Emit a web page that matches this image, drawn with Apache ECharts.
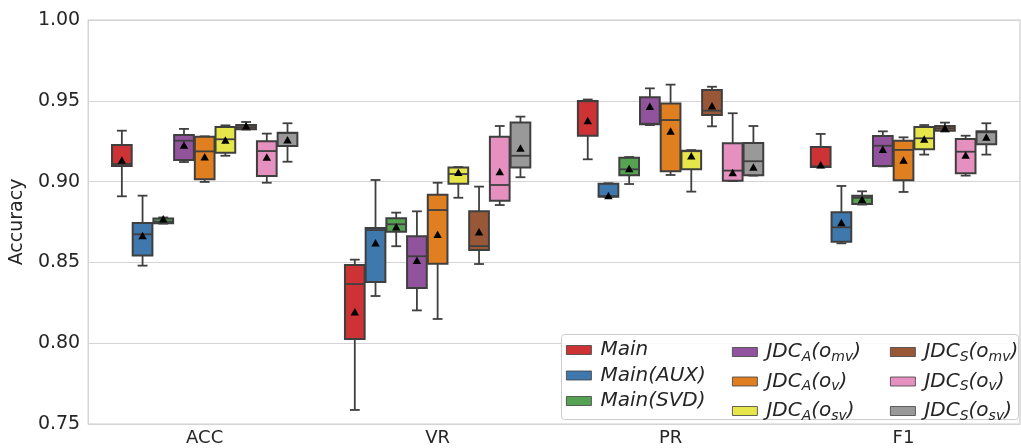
<!DOCTYPE html>
<html>
<head>
<meta charset="utf-8">
<script src="https://cdn.jsdelivr.net/npm/echarts@6/dist/echarts.min.js"></script>
<style>
  html, body { margin: 0; padding: 0; background: #fff; }
  #chart { width: 1021px; height: 448px; }
</style>
</head>
<body>
<div id="chart"></div>
<script>
// categories on the x axis
const metrics = ['ACC', 'VR', 'PR', 'F1'];
const yTicks = [0.75, 0.80, 0.85, 0.90, 0.95, 1.00];

// method names (legend order) and colours
const methods = ['Main', 'Main(AUX)', 'Main(SVD)',
    'JDC_A(o_mv)', 'JDC_A(o_v)', 'JDC_A(o_sv)',
    'JDC_S(o_mv)', 'JDC_S(o_v)', 'JDC_S(o_sv)'];
const colors = ['#cd3335', '#3f78ad', '#55a352', '#91539c', '#e07f20',
    '#e6e54a', '#985838', '#e590bf', '#999999'];

// per method, per metric: [min, q1, median, q3, max, mean]
const mainStats = [
    [0.8909, 0.9097, 0.9109, 0.9226, 0.9315, 0.9132],
    [0.7587, 0.8026, 0.8366, 0.8484, 0.8517, 0.8193],
    [0.9138, 0.9284, 0.9497, 0.9499, 0.9508, 0.9377],
    [0.9088, 0.9090, 0.9095, 0.9214, 0.9295, 0.9103]
];
const auxStats = [
    [0.8480, 0.8542, 0.8674, 0.8744, 0.8913, 0.8665],
    [0.8292, 0.8379, 0.8700, 0.8713, 0.9010, 0.8620],
    [0.8905, 0.8906, 0.8910, 0.8987, 0.8990, 0.8913],
    [0.8618, 0.8628, 0.8717, 0.8810, 0.8973, 0.8746]
];
const svdStats = [
    [0.8740, 0.8742, 0.8752, 0.8772, 0.8778, 0.8768],
    [0.8600, 0.8690, 0.8736, 0.8773, 0.8808, 0.8719],
    [0.8985, 0.9039, 0.9076, 0.9148, 0.9152, 0.9080],
    [0.8858, 0.8861, 0.8900, 0.8913, 0.8940, 0.8890]
];
const jdcAmvStats = [
    [0.9121, 0.9134, 0.9253, 0.9288, 0.9326, 0.9225],
    [0.8203, 0.8342, 0.8538, 0.8662, 0.8816, 0.8511],
    [0.9350, 0.9355, 0.9358, 0.9522, 0.9577, 0.9464],
    [0.9094, 0.9097, 0.9222, 0.9282, 0.9311, 0.9198]
];
const jdcAvStats = [
    [0.8998, 0.9014, 0.9187, 0.9278, 0.9280, 0.9152],
    [0.8150, 0.8492, 0.8824, 0.8919, 0.8993, 0.8672],
    [0.9041, 0.9064, 0.9381, 0.9484, 0.9600, 0.9311],
    [0.8936, 0.9008, 0.9196, 0.9253, 0.9274, 0.9132]
];
const jdcAsvStats = [
    [0.9160, 0.9179, 0.9262, 0.9338, 0.9348, 0.9256],
    [0.8900, 0.8987, 0.9047, 0.9088, 0.9090, 0.9057],
    [0.8938, 0.9076, 0.9188, 0.9191, 0.9195, 0.9158],
    [0.9167, 0.9200, 0.9268, 0.9338, 0.9350, 0.9262]
];
const jdcSmvStats = [
    [0.9322, 0.9324, 0.9336, 0.9350, 0.9369, 0.9344],
    [0.8490, 0.8577, 0.8601, 0.8816, 0.8969, 0.8688],
    [0.9342, 0.9412, 0.9439, 0.9567, 0.9587, 0.9468],
    [0.9310, 0.9315, 0.9330, 0.9344, 0.9365, 0.9330]
];
const jdcSvStats = [
    [0.8993, 0.9035, 0.9189, 0.9249, 0.9297, 0.9150],
    [0.8855, 0.8882, 0.8979, 0.9278, 0.9344, 0.9061],
    [0.9003, 0.9006, 0.9068, 0.9237, 0.9423, 0.9055],
    [0.9037, 0.9051, 0.9185, 0.9264, 0.9284, 0.9163]
];
const jdcSsvStats = [
    [0.9123, 0.9220, 0.9300, 0.9303, 0.9361, 0.9257],
    [0.9027, 0.9088, 0.9160, 0.9365, 0.9402, 0.9206],
    [0.9037, 0.9039, 0.9126, 0.9239, 0.9344, 0.9089],
    [0.9167, 0.9231, 0.9305, 0.9311, 0.9361, 0.9274]
];
const allStats = [mainStats, auxStats, svdStats, jdcAmvStats, jdcAvStats,
    jdcAsvStats, jdcSmvStats, jdcSvStats, jdcSsvStats];

const FONT = 'DejaVu Sans';
const EDGE = '#3f3f3f';

var myChart = echarts.init(document.getElementById('chart'));

// box + whiskers + mean triangle, dodged like seaborn (group width 0.8)
function renderBox(params, api) {
    const cat = api.value(0);
    const bw = api.size([1, 0])[0];
    const step = bw * 0.8 / methods.length;
    const dx = (params.seriesIndex - (methods.length - 1) / 2) * step;
    const half = step / 2 - 0.5;
    const pt = function (v) {
        const p = api.coord([cat, v]);
        return [p[0] + dx, p[1]];
    };
    const pMin = pt(api.value(1)), pQ1 = pt(api.value(2)), pMed = pt(api.value(3));
    const pQ3 = pt(api.value(4)), pMax = pt(api.value(5)), pMean = pt(api.value(6));
    const x = pMin[0];
    const cap = half / 2;
    const lineStyle = { stroke: EDGE, lineWidth: 1.8 };
    return {
        type: 'group',
        children: [
            { type: 'line', shape: { x1: x, y1: pQ1[1], x2: x, y2: pMin[1] }, style: lineStyle },
            { type: 'line', shape: { x1: x, y1: pQ3[1], x2: x, y2: pMax[1] }, style: lineStyle },
            { type: 'line', shape: { x1: x - cap, y1: pMin[1], x2: x + cap, y2: pMin[1] }, style: lineStyle },
            { type: 'line', shape: { x1: x - cap, y1: pMax[1], x2: x + cap, y2: pMax[1] }, style: lineStyle },
            {
                type: 'rect',
                shape: { x: x - half, y: pQ3[1], width: half * 2, height: pQ1[1] - pQ3[1] },
                style: { fill: api.visual('color'), stroke: EDGE, lineWidth: 2 }
            },
            { type: 'line', shape: { x1: x - half, y1: pMed[1], x2: x + half, y2: pMed[1] }, style: lineStyle },
            {
                type: 'polygon',
                shape: { points: [[x, pMean[1] - 4], [x - 4.2, pMean[1] + 3.5], [x + 4.2, pMean[1] + 3.5]] },
                style: { fill: '#000' }
            }
        ]
    };
}

let series = methods.map(function (name, i) {
    return {
        name: name,
        type: 'custom',
        renderItem: renderBox,
        itemStyle: { color: colors[i] },
        encode: { x: 0, y: [1, 2, 3, 4, 5, 6] },
        data: allStats[i].map(function (s, c) { return [c].concat(s); })
    };
});

// "JDC_A(o_mv)" -> rich text with subscripts
function legendText(name) {
    return '{i|' + name.replace(/_([A-Za-z]+)/g, '}{s|$1}{i|') + '}';
}

const legendRich = {
    i: { fontFamily: FONT, fontStyle: 'italic', fontSize: 20, color: '#262626', lineHeight: 22 },
    s: { fontFamily: FONT, fontStyle: 'italic', fontSize: 14, color: '#262626', lineHeight: 12, padding: [10, 0, 0, 0] }
};

function makeLegend(names, left) {
    return {
        data: names,
        orient: 'vertical',
        left: left,
        top: 340,
        padding: 0,
        itemGap: 5.5,
        itemWidth: 25,
        itemHeight: 9,
        icon: 'rect',
        itemStyle: { borderColor: EDGE, borderWidth: 0.8 },
        formatter: legendText,
        textStyle: { padding: [0, 0, 0, 4], rich: legendRich }
    };
}

option = {
    animation: false,
    backgroundColor: '#fff',
    grid: {
        left: 88,
        right: 1,
        top: 20,
        bottom: 24,
        show: true,
        borderColor: '#cccccc',
        borderWidth: 1.2
    },
    xAxis: {
        type: 'category',
        data: metrics,
        axisLine: { show: false },
        axisTick: { show: false },
        splitLine: { show: false },
        axisLabel: { fontFamily: FONT, fontSize: 18, color: '#262626', margin: 5 }
    },
    yAxis: {
        type: 'value',
        min: yTicks[0],
        max: yTicks[yTicks.length - 1],
        interval: 0.05,
        name: 'Accuracy',
        nameLocation: 'middle',
        nameGap: 57,
        nameTextStyle: { fontFamily: FONT, fontSize: 19, color: '#262626' },
        axisLine: { show: false },
        axisTick: { show: false },
        splitLine: { lineStyle: { color: '#d4d4d4', width: 1.2 } },
        axisLabel: {
            fontFamily: FONT, fontSize: 19, color: '#262626', margin: 8,
            formatter: function (v) { return v.toFixed(2); }
        }
    },
    legend: [
        makeLegend(methods.slice(0, 3), 566),
        makeLegend(methods.slice(3, 6), 732),
        makeLegend(methods.slice(6, 9), 890)
    ],
    graphic: [{
        type: 'rect',
        z: 3,
        shape: { x: 561.5, y: 334.5, width: 457, height: 85, r: 3 },
        style: { fill: 'rgba(255,255,255,0.85)', stroke: '#cccccc', lineWidth: 1 }
    }],
    series: series
};

myChart.setOption(option);
</script>
</body>
</html>
